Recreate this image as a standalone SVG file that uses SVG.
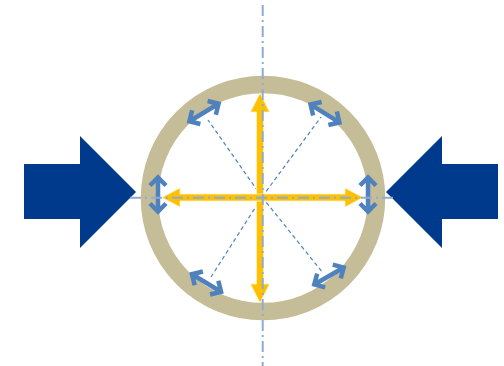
<svg xmlns="http://www.w3.org/2000/svg" width="504" height="366" viewBox="0 0 504 366">
<style>
.axis{stroke:#8eabd3;stroke-width:2;stroke-dasharray:11 4 2 4;fill:none}
.diag{stroke:#4f81bd;stroke-width:1.2;stroke-dasharray:4 3;fill:none}
.navy{fill:#003a8c}
.yellow{fill:#ffc000;stroke:#fff3c4;stroke-width:0.8}
.blue{stroke:#4f81bd;stroke-width:4.5;fill:none;stroke-linejoin:miter}
</style>
<defs>
<path id="dbl" d="M-14,0 H14 M-9,-8 L-17,0 L-9,8 M9,-8 L17,0 L9,8"/>
</defs>
<rect width="504" height="366" fill="#ffffff"/>
<g id="ring">
<circle cx="263" cy="198" r="113.5" fill="none" stroke="#c4bd97" stroke-width="17.5"/>
</g>
<g id="force-left">
<path class="navy" d="M24,164 H80 V136 L136,192 L80,248 V219 H24 Z"/>
</g>
<g id="force-right">
<path class="navy" d="M498,164 H442 V136 L386,192 L442,248 V219 H498 Z"/>
</g>
<g id="connectors">
<path class="diag" d="M262,197 L208,120 M262,197 L321,117 M262,197 L211,277 M262,197 L323,273"/>
<circle cx="262" cy="197" r="2.5" fill="none" stroke="#4f81bd" stroke-width="1.2"/>
</g>
<g id="blue-arrows" class="blue">
<use href="#dbl" transform="translate(204,112.5) rotate(-31)"/>
<use href="#dbl" transform="translate(325,113.5) rotate(32)"/>
<use href="#dbl" transform="translate(158,194.5) rotate(90)"/>
<use href="#dbl" transform="translate(368,194.5) rotate(90)"/>
<use href="#dbl" transform="translate(206.5,283) rotate(31)"/>
<use href="#dbl" transform="translate(329,276) rotate(-30)"/>
</g>
<g id="yellow-vertical">
<path class="yellow" d="M260,93 L269.5,112 L263.5,112 L263.5,284 L269.5,284 L260,303 L250.5,284 L256.5,284 L256.5,112 L250.5,112 Z"/>
</g>
<g id="yellow-horizontal">
<path class="yellow" d="M162,197.5 L180,188 L180,194 L345,194 L345,188 L363,197.5 L345,207 L345,201 L180,201 L180,207 Z"/>
</g>
<g id="axes">
<line class="axis" x1="262.7" y1="5" x2="262.7" y2="366"/>
<line class="axis" x1="130" y1="197.7" x2="393" y2="197.7"/>
</g>
</svg>
